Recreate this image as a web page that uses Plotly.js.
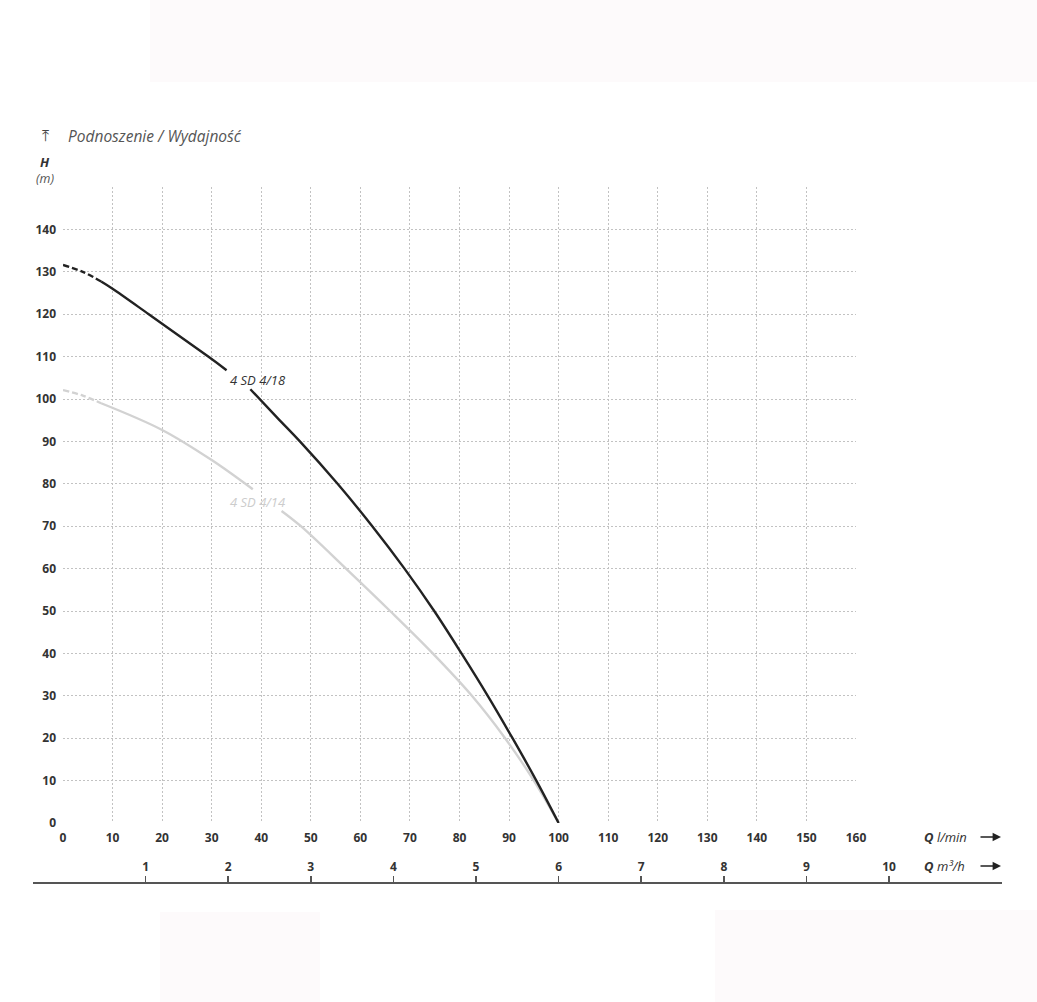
<!DOCTYPE html>
<html>
<head>
<meta charset="utf-8">
<script src="https://cdn.plot.ly/plotly-3.0.1.min.js"></script>
<style>
  html, body { margin: 0; padding: 0; background: #ffffff; }
  #chart { width: 1037px; height: 1002px; }
</style>
</head>
<body>
<div id="chart"></div>
<script>
// ---------------- DATA ----------------
// Flow Q (l/min) and head H (m)
const q418Dash = [0, 4, 7.7];
const h418Dash = [131.6, 130.0, 127.7];
const q418A = [7.7, 10, 17.3, 29.3, 33];
const h418A = [127.7, 126.0, 120, 110, 106.8];
const q418B = [37.8, 43.3, 47.8, 55.4, 62.4, 68.9, 74.9, 80.4, 85.7, 90.7, 95.5, 100];
const h418B = [102.3, 95.5, 90, 80, 70, 60, 50, 40, 30, 20, 10, 0];

const q414Dash = [0, 4, 7.7];
const h414Dash = [102.1, 100.8, 99.0];
const q414A = [7.7, 20, 30, 38.3];
const h414A = [99.0, 92.7, 85.6, 78.7];
const q414B = [44.1, 48, 57.1, 66, 74.6, 82.5, 89.2, 95.0, 100];
const h414B = [73.6, 70, 60, 50, 40, 30, 20, 10, 0];

const seriesNames = ["4 SD 4/18", "4 SD 4/14"];

const xTickVals = [0, 10, 20, 30, 40, 50, 60, 70, 80, 90, 100, 110, 120, 130, 140, 150, 160];
const yTickVals = [0, 10, 20, 30, 40, 50, 60, 70, 80, 90, 100, 110, 120, 130, 140, 150];
const yTickText = ["0", "10", "20", "30", "40", "50", "60", "70", "80", "90", "100", "110", "120", "130", "140", ""];
const m3hTickVals = [1, 2, 3, 4, 5, 6, 7, 8, 9, 10];
const lminPerM3h = 1000 / 60;

// ---------------- LAYOUT GEOMETRY ----------------
const W = 1037, H = 1002;
const mL = 33, mR = 35, mT = 187, mB = 119;
const pw = W - mL - mR, ph = H - mT - mB;
const px = v => (v - mL) / pw;          // pixel x -> paper x
const py = v => (H - mB - v) / ph;      // pixel y -> paper y

const xDomain = [px(63), px(856)];
const yDomain = [py(823), 1];
const xRange = [0, 160];
// secondary (m3/h) axis spans whole paper width, aligned to the l/min scale
const unitsPerPaper = (xRange[1] - xRange[0]) / (xDomain[1] - xDomain[0]);
const x2Range = [
  (xRange[0] - xDomain[0] * unitsPerPaper) / lminPerM3h,
  (xRange[0] + (1 - xDomain[0]) * unitsPerPaper) / lminPerM3h
];

const FONT = "Open Sans, Noto Sans, DejaVu Sans, sans-serif";
const BLACK = "#222222";
const GRAY = "#d2d2d2";

function line(x, y, color, dash, name) {
  return {
    x: x, y: y, type: "scatter", mode: "lines", name: name,
    line: { color: color, width: 2.4, dash: dash, shape: "spline", smoothing: 1.0 },
    hoverinfo: "skip", showlegend: false
  };
}

const traces = [
  line(q414Dash, h414Dash, GRAY, "6px,3px", seriesNames[1]),
  line(q414A, h414A, GRAY, "solid", seriesNames[1]),
  line(q414B, h414B, GRAY, "solid", seriesNames[1]),
  line(q418Dash, h418Dash, BLACK, "6px,3px", seriesNames[0]),
  line(q418A, h418A, BLACK, "solid", seriesNames[0]),
  line(q418B, h418B, BLACK, "solid", seriesNames[0]),
  // empty trace to activate the m3/h axis
  { x: [], y: [], xaxis: "x2", yaxis: "y2", type: "scatter", mode: "lines", showlegend: false, hoverinfo: "skip" }
];

const GRID = "#c2c2c2";
const TICKFONT = { family: FONT, size: 12, color: "#333333", weight: "bold" };

const layout = {
  width: W, height: H,
  margin: { l: mL, r: mR, t: mT, b: mB, pad: 0 },
  paper_bgcolor: "#ffffff",
  plot_bgcolor: "rgba(0,0,0,0)",
  font: { family: FONT, color: "#333333" },
  showlegend: false,
  xaxis: {
    domain: xDomain, range: xRange, anchor: "y",
    tickmode: "array", tickvals: xTickVals,
    showgrid: true, gridcolor: GRID, griddash: "2px,2px", gridwidth: 1,
    zeroline: false, showline: false, ticks: "",
    tickfont: TICKFONT,
    ticklabelstandoff: 6,
    fixedrange: true
  },
  yaxis: {
    domain: yDomain, range: [0, 150], anchor: "x",
    tickmode: "array", tickvals: yTickVals, ticktext: yTickText,
    showgrid: true, gridcolor: GRID, griddash: "2px,2px", gridwidth: 1,
    zeroline: false, showline: false, ticks: "",
    tickfont: TICKFONT,
    ticklabelstandoff: 6,
    fixedrange: true
  },
  xaxis2: {
    domain: [0, 1], range: x2Range, anchor: "free", position: 0, side: "top",
    tickmode: "array", tickvals: m3hTickVals,
    showgrid: false, zeroline: false,
    showline: true, linecolor: "#555555", linewidth: 2,
    ticks: "outside", ticklen: 6, tickwidth: 1.5, tickcolor: "#555555",
    tickfont: TICKFONT,
    fixedrange: true
  },
  yaxis2: {
    domain: [0, 0.05], anchor: "x2", visible: false, showgrid: false, zeroline: false, fixedrange: true
  },
  shapes: [
    { type: "rect", xref: "paper", yref: "paper", x0: px(150), x1: px(1037), y0: py(82), y1: py(0),
      fillcolor: "#fdfafb", line: { width: 0 }, layer: "below" },
    { type: "rect", xref: "paper", yref: "paper", x0: px(160), x1: px(320), y0: py(1002), y1: py(912),
      fillcolor: "#fdfafb", line: { width: 0 }, layer: "below" },
    { type: "rect", xref: "paper", yref: "paper", x0: px(715), x1: px(1037), y0: py(1002), y1: py(910),
      fillcolor: "#fdfafb", line: { width: 0 }, layer: "below" }
  ],
  annotations: [
    { xref: "paper", yref: "paper", x: px(45), y: py(135), text: "⤒", showarrow: false,
      font: { family: "DejaVu Sans", size: 16, color: "#444444" }, xanchor: "center", yanchor: "middle" },
    { xref: "paper", yref: "paper", x: px(66), y: py(136), text: "<i>Podnoszenie / Wydajność</i>", showarrow: false,
      font: { family: FONT, size: 15.5, color: "#555555" }, xanchor: "left", yanchor: "middle" },
    { xref: "paper", yref: "paper", x: px(45), y: py(162), text: "<b><i>H</i></b>", showarrow: false,
      font: { family: FONT, size: 13, color: "#333333" }, xanchor: "center", yanchor: "middle" },
    { xref: "paper", yref: "paper", x: px(45), y: py(179), text: "<i>(m)</i>", showarrow: false,
      font: { family: FONT, size: 12.5, color: "#555555" }, xanchor: "center", yanchor: "middle" },
    { xref: "paper", yref: "paper", x: px(922), y: py(837), text: "<b><i>Q</i></b> <i>l/min</i>", showarrow: false,
      font: { family: FONT, size: 13, color: "#333333" }, xanchor: "left", yanchor: "middle" },
    { xref: "paper", yref: "paper", x: px(922), y: py(866), text: "<b><i>Q</i></b> <i>m³/h</i>", showarrow: false,
      font: { family: FONT, size: 13, color: "#333333" }, xanchor: "left", yanchor: "middle" },
    { xref: "paper", yref: "paper", x: px(1001), y: py(837), ax: -22, ay: 0, text: "", showarrow: true,
      arrowhead: 2, arrowsize: 1.2, arrowwidth: 1.4, arrowcolor: "#222222", standoff: 0 },
    { xref: "paper", yref: "paper", x: px(1001), y: py(866), ax: -22, ay: 0, text: "", showarrow: true,
      arrowhead: 2, arrowsize: 1.2, arrowwidth: 1.4, arrowcolor: "#222222", standoff: 0 },
    { xref: "x", yref: "y", x: 39.3, y: 104.4, text: "<i>" + seriesNames[0] + "</i>", showarrow: false,
      font: { family: FONT, size: 13, color: "#333333" }, xanchor: "center", yanchor: "middle" },
    { xref: "x", yref: "y", x: 39.2, y: 75.7, text: "<i>" + seriesNames[1] + "</i>", showarrow: false,
      font: { family: FONT, size: 13, color: "#cccccc" }, xanchor: "center", yanchor: "middle" }
  ]
};

Plotly.newPlot("chart", traces, layout, { staticPlot: true, displayModeBar: false });
</script>
</body>
</html>
